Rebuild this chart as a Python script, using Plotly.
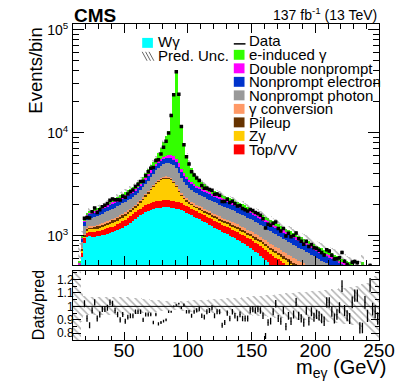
import numpy as np
import plotly.graph_objects as go

# 2 GeV bins from 10 to 250 GeV
edges = np.arange(10, 252, 2)
centers = edges[:-1] + 1

wgamma = [
    90, 170, 330, 620, 850, 960, 990, 980, 975, 985,
    995, 1005, 1020, 1040, 1060, 1080, 1100, 1125, 1160, 1195,
    1235, 1280, 1330, 1390, 1450, 1510, 1570, 1630, 1690, 1740,
    1780, 1810, 1840, 1860, 1875, 1885, 1885, 1880, 1870, 1855,
    1835, 1805, 1770, 1725, 1675, 1625, 1575, 1530, 1485, 1440,
    1395, 1355, 1315, 1275, 1235, 1195, 1160, 1125, 1090, 1060,
    1030, 1000, 970, 940, 910, 880, 850, 820, 790, 760,
    730, 700, 670, 640, 610, 580, 550, 522, 496, 472,
    450, 428, 407, 387, 368, 350, 333, 317, 302, 288,
    275, 263, 251, 240, 229, 219, 209, 200, 191, 183,
    176, 169, 162, 155, 149, 143, 137, 131, 126, 121,
    116, 111, 107, 103, 99, 95, 91, 88, 85, 82]
top_vv = [
    10, 20, 40, 60, 90, 100, 100, 105, 110, 115,
    120, 125, 130, 135, 140, 145, 150, 160, 170, 180,
    190, 200, 210, 220, 235, 250, 260, 275, 285, 295,
    300, 310, 315, 320, 320, 325, 320, 320, 315, 310,
    305, 295, 285, 275, 265, 255, 248, 240, 235, 228,
    222, 216, 210, 205, 200, 196, 192, 188, 184, 180,
    178, 176, 174, 172, 170, 168, 166, 164, 162, 160,
    158, 156, 154, 152, 150, 148, 146, 144, 142, 140,
    138, 136, 134, 132, 130, 128, 126, 124, 122, 120,
    118, 116, 114, 112, 110, 108, 106, 104, 102, 100,
    98, 96, 94, 92, 90, 88, 86, 85, 84, 83,
    82, 81, 80, 79, 78, 77, 76, 75, 74, 73]
zgamma = [
    5, 15, 25, 40, 50, 55, 60, 65, 70, 72,
    75, 80, 85, 90, 95, 100, 105, 110, 115, 120,
    125, 130, 140, 150, 170, 200, 250, 320, 420, 560,
    720, 880, 1040, 1180, 1300, 1380, 1420, 1400, 1300, 1100,
    850, 600, 400, 280, 220, 185, 165, 150, 140, 135,
    130, 125, 120, 116, 112, 108, 105, 102, 99, 96,
    93, 90, 88, 86, 84, 82, 80, 78, 76, 74,
    72, 70, 68, 66, 65, 64, 63, 62, 61, 60,
    59, 58, 57, 56, 55, 54, 53, 52, 51, 50,
    49, 48, 47, 46, 45, 44, 43, 42, 41, 40,
    39, 38, 37, 36, 35, 34, 34, 33, 33, 32,
    32, 31, 31, 30, 30, 29, 29, 28, 28, 27]
pileup = [
    3, 8, 15, 25, 40, 50, 55, 60, 65, 70,
    75, 80, 85, 90, 90, 95, 95, 100, 100, 105,
    105, 110, 110, 110, 110, 105, 100, 95, 90, 85,
    80, 80, 75, 75, 75, 75, 75, 75, 75, 75,
    70, 70, 65, 65, 60, 60, 60, 58, 56, 55,
    54, 53, 52, 51, 50, 50, 49, 48, 48, 47,
    46, 46, 45, 45, 44, 44, 43, 43, 42, 42,
    41, 41, 40, 40, 40, 39, 39, 38, 38, 38,
    37, 37, 36, 36, 36, 35, 35, 34, 34, 34,
    33, 33, 32, 32, 32, 31, 31, 30, 30, 30,
    29, 29, 28, 28, 28, 27, 27, 26, 26, 26,
    25, 25, 24, 24, 24, 23, 23, 22, 22, 22]
conversion = [
    2, 4, 8, 12, 18, 20, 22, 24, 25, 26,
    27, 28, 29, 30, 31, 32, 33, 34, 35, 36,
    37, 38, 39, 40, 42, 44, 46, 48, 50, 52,
    54, 56, 58, 60, 62, 64, 66, 68, 70, 72,
    74, 76, 78, 80, 80, 80, 80, 80, 80, 80,
    80, 80, 80, 80, 80, 79, 79, 78, 78, 77,
    77, 76, 76, 75, 75, 74, 74, 73, 73, 72,
    72, 71, 71, 70, 70, 69, 69, 68, 68, 67,
    67, 66, 66, 65, 65, 64, 64, 63, 63, 62,
    62, 61, 60, 59, 58, 57, 56, 55, 54, 53,
    52, 51, 50, 49, 48, 47, 46, 45, 44, 43,
    42, 41, 40, 39, 38, 37, 36, 35, 34, 33]
np_photon = [
    10, 30, 70, 110, 190, 220, 240, 255, 270, 285,
    300, 315, 330, 345, 360, 375, 390, 400, 410, 420,
    430, 440, 450, 465, 480, 500, 530, 570, 620, 690,
    780, 880, 980, 1080, 1160, 1230, 1290, 1340, 1380, 1400,
    1380, 1250, 1000, 900, 800, 720, 660, 620, 590, 565,
    545, 530, 515, 500, 490, 480, 470, 460, 450, 440,
    430, 420, 410, 400, 390, 380, 370, 360, 350, 340,
    330, 320, 311, 302, 293, 284, 276, 268, 260, 252,
    245, 238, 231, 224, 218, 212, 206, 200, 194, 188,
    180, 174, 168, 162, 156, 150, 145, 140, 135, 130,
    126, 122, 118, 114, 110, 106, 102, 98, 95, 92,
    88, 85, 82, 80, 78, 76, 74, 72, 70, 68]
np_electron = [
    5, 15, 40, 70, 130, 150, 160, 165, 170, 175,
    180, 185, 190, 200, 210, 220, 230, 240, 250, 255,
    260, 265, 270, 275, 285, 295, 310, 330, 350, 380,
    410, 440, 470, 500, 530, 560, 590, 620, 640, 650,
    640, 600, 520, 480, 440, 410, 390, 375, 360, 350,
    340, 332, 325, 318, 311, 304, 297, 290, 284, 278,
    272, 266, 260, 254, 248, 242, 236, 230, 224, 218,
    212, 206, 200, 195, 190, 185, 180, 175, 170, 165,
    160, 156, 152, 148, 144, 140, 136, 132, 128, 124,
    120, 117, 114, 111, 108, 105, 102, 100, 98, 96,
    94, 92, 90, 88, 86, 84, 82, 80, 78, 76,
    74, 72, 70, 68, 66, 64, 62, 60, 58, 56]
double_np = [
    2, 5, 12, 22, 40, 45, 48, 50, 52, 54,
    56, 58, 60, 62, 64, 66, 68, 70, 72, 74,
    76, 78, 80, 82, 85, 90, 100, 115, 135, 160,
    185, 210, 240, 270, 300, 330, 360, 390, 420, 440,
    430, 380, 300, 230, 180, 150, 130, 118, 110, 104,
    99, 95, 92, 89, 86, 84, 82, 80, 78, 76,
    74, 72, 70, 68, 66, 64, 62, 60, 58, 57,
    56, 55, 54, 53, 52, 51, 50, 49, 48, 47,
    46, 45, 44, 43, 42, 41, 40, 39, 38, 37,
    36, 35, 34, 33, 32, 31, 30, 30, 29, 29,
    28, 28, 27, 27, 26, 26, 25, 25, 24, 24,
    23, 23, 22, 40, 21, 21, 20, 20, 19, 19]
e_induced = [
    5, 10, 30, 30, 40, 45, 50, 55, 60, 65,
    70, 75, 80, 85, 95, 110, 125, 140, 160, 180,
    200, 220, 240, 250, 270, 300, 330, 370, 420, 480,
    500, 550, 700, 950, 1450, 2300, 3200, 4300, 9300, 17500,
    33300, 18200, 7200, 3550, 2380, 1700, 1190, 880, 690, 540,
    430, 360, 300, 260, 230, 220, 205, 195, 185, 180,
    170, 165, 160, 155, 150, 145, 140, 135, 130, 125,
    120, 115, 110, 106, 102, 98, 95, 92, 89, 86,
    84, 82, 80, 78, 76, 74, 72, 70, 68, 66,
    64, 62, 60, 58, 56, 54, 52, 50, 49, 48,
    47, 46, 45, 44, 43, 42, 41, 40, 39, 38,
    37, 36, 35, 90, 33, 32, 31, 30, 29, 28]

# data / prediction
data_over_pred = [
    None, None, None, None, 1.02, 0.91, 0.86, 0.97, 1.03, 0.91,
    0.94, 0.98, 0.98, 0.99, 1.03, 1.02, 0.97, 0.94, 0.90, 0.94,
    0.89, 0.92, 0.93, 0.93, 0.96, 0.96, 0.96, 0.90, 0.94, 0.94,
    0.94, 0.88, 0.94, 0.87, 0.88, 0.89, 0.90, 0.96, 0.96, 1.00,
    1.01, 1.02, 0.99, 1.01, 0.96, 0.96, 0.93, 0.96, 0.97, 0.98,
    0.93, 0.92, 0.96, 0.97, 0.99, 0.93, 0.96, 0.96, 0.86, 0.88,
    0.95, 0.91, 0.96, 0.93, 0.91, 0.94, 0.91, 0.91, 0.91, 0.97,
    0.98, 0.97, 0.98, 0.97, 0.93, 0.78, 0.88, 0.89, 0.96, 1.02,
    0.91, 0.89, 0.97, 0.85, 0.93, 0.89, 0.94, 1.03, 0.93, 0.91,
    0.88, 0.97, 0.89, 0.96, 0.92, 0.94, 0.93, 0.91, 0.89, 1.03,
    1.03, 0.96, 0.91, 0.94, 0.99, 1.15, 0.97, 0.93, 0.91, 1.03,
    1.08, 1.08, 0.84, 0.84, 1.03, 0.93, 1.16, 0.98, 0.96, 0.91]

# relative prediction uncertainty (half width)
pred_unc = [
    0.5, 0.5, 0.5, 0.12, 0.075, 0.072, 0.07, 0.07, 0.07, 0.07,
    0.07, 0.07, 0.07, 0.069, 0.068, 0.068, 0.067, 0.066, 0.066, 0.065,
    0.064, 0.063, 0.062, 0.061, 0.06, 0.058, 0.056, 0.054, 0.052, 0.05,
    0.048, 0.046, 0.044, 0.042, 0.04, 0.038, 0.036, 0.034, 0.033, 0.032,
    0.032, 0.033, 0.035, 0.037, 0.039, 0.041, 0.042, 0.043, 0.044, 0.045,
    0.046, 0.047, 0.048, 0.049, 0.05, 0.051, 0.052, 0.053, 0.054, 0.055,
    0.056, 0.057, 0.058, 0.059, 0.06, 0.062, 0.064, 0.066, 0.068, 0.07,
    0.072, 0.073, 0.074, 0.075, 0.076, 0.078, 0.08, 0.082, 0.084, 0.086,
    0.088, 0.09, 0.092, 0.094, 0.096, 0.098, 0.1, 0.101, 0.102, 0.103,
    0.104, 0.105, 0.106, 0.108, 0.11, 0.112, 0.114, 0.116, 0.118, 0.12,
    0.122, 0.124, 0.126, 0.128, 0.13, 0.132, 0.134, 0.136, 0.138, 0.14,
    0.145, 0.15, 0.155, 0.16, 0.165, 0.17, 0.18, 0.2, 0.22, 0.25]

# stack order, bottom to top
components = [
    ("Wγ", wgamma, "#00ffff"),
    ("Top/VV", top_vv, "#ff0000"),
    ("Zγ", zgamma, "#ffcc00"),
    ("Pileup", pileup, "#663300"),
    ("γ conversion", conversion, "#ff9966"),
    ("Nonprompt photon", np_photon, "#999999"),
    ("Nonprompt electron", np_electron, "#0033cc"),
    ("Double nonprompt", double_np, "#ff00ff"),
    ("e-induced γ", e_induced, "#33ff00"),
]

FONT = "Liberation Sans, Arial, sans-serif"
HATCH = dict(shape="\\", fgcolor="#666666", bgcolor="rgba(0,0,0,0)", size=5, solidity=0.3)

stack = np.array([c[1] for c in components], dtype=float)
pred = stack.sum(axis=0)
below = np.cumsum(stack, axis=0) - stack
unc = np.array(pred_unc)
ratio = np.array([np.nan if r is None else r for r in data_over_pred])
data = ratio * pred
data_err = np.sqrt(data)
ratio_err = ratio / np.sqrt(data)

fig = go.Figure()

for i, (name, vals, col) in enumerate(components):
    fig.add_trace(go.Bar(
        x=centers, y=vals, base=below[i] if i > 0 else None, width=2,
        marker=dict(color=col, line=dict(width=0)),
        name=name, showlegend=False, xaxis="x", yaxis="y"))

fig.add_trace(go.Bar(
    x=centers, y=2 * unc * pred, base=pred * (1 - unc), width=2,
    marker=dict(color="rgba(0,0,0,0)", line=dict(width=0), pattern=HATCH),
    showlegend=False, xaxis="x", yaxis="y"))

fig.add_trace(go.Scatter(
    x=centers, y=data, mode="markers",
    marker=dict(symbol="square", size=3.5, color="black"),
    error_y=dict(type="data", array=data_err, color="black", thickness=1, width=0),
    showlegend=False, xaxis="x", yaxis="y"))

# ratio panel
fig.add_trace(go.Bar(
    x=centers, y=2 * unc, base=1 - unc, width=2,
    marker=dict(color="rgba(0,0,0,0)", line=dict(width=0), pattern=HATCH),
    showlegend=False, xaxis="x2", yaxis="y2"))

fig.add_trace(go.Scatter(
    x=centers, y=ratio, mode="markers",
    marker=dict(size=1, color="black"),
    error_y=dict(type="data", array=ratio_err, color="black", thickness=1.3, width=0),
    showlegend=False, xaxis="x2", yaxis="y2"))

fig.add_shape(type="line", xref="x2", yref="y2", x0=10, x1=250, y0=1, y1=1,
              line=dict(color="black", width=1))

axis_common = dict(showline=True, linecolor="black", linewidth=1, mirror="allticks",
                   showgrid=False, zeroline=False, ticks="inside", tickcolor="black")

minor_log = [m * 10 ** e for e in (2, 3, 4) for m in range(2, 10)]

# the page body has an 8 px margin, so the figure is 8 px smaller than the window
fig.update_layout(
    width=399, height=379,
    margin=dict(l=65, r=20, t=14, b=47),
    plot_bgcolor="white", paper_bgcolor="white",
    barmode="overlay", bargap=0,
    showlegend=False,
    font=dict(family=FONT, size=13, color="black"),
    xaxis=dict(domain=[0, 1], anchor="y", range=[10, 250], tick0=0, dtick=50,
               ticklen=9, showticklabels=False,
               minor=dict(ticks="inside", dtick=10, ticklen=5, tickcolor="black"),
               **axis_common),
    yaxis=dict(domain=[0.236, 1], anchor="x", type="log", range=[2.71, 5.058],
               tickvals=[1e3, 1e4, 1e5],
               ticktext=["10<sup>3</sup>", "10<sup>4</sup>", "10<sup>5</sup>"],
               ticklen=11, tickfont=dict(size=14), ticklabelstandoff=1,
               minor=dict(ticks="inside", tickvals=minor_log, ticklen=6, tickcolor="black"),
               **axis_common),
    xaxis2=dict(domain=[0, 1], anchor="y2", range=[10, 250], tick0=0, dtick=50,
                ticklen=8, tickfont=dict(size=19), ticklabelstandoff=-7,
                minor=dict(ticks="inside", dtick=10, ticklen=4, tickcolor="black"),
                **axis_common),
    yaxis2=dict(domain=[0, 0.217], anchor="x2", range=[0.75, 1.26],
                tickvals=[0.8, 0.9, 1.0, 1.1, 1.2],
                ticktext=["0.8", "0.9", "1", "1.1", "1.2"],
                ticklen=8, tickfont=dict(size=12), ticklabelstandoff=-4,
                minor=dict(ticks="inside", dtick=0.05, ticklen=4, tickcolor="black"),
                **axis_common),
)


def px_x(p):
    return (p - 73) / 314


def px_y(p):
    return (340 - p) / 318


def note(text, x, y, size, xanchor="left", angle=0):
    fig.add_annotation(text=text, x=px_x(x), y=px_y(y), xref="paper", yref="paper",
                       xanchor=xanchor, yanchor="middle", showarrow=False,
                       textangle=angle, font=dict(family=FONT, size=size, color="black"))


note("<b>CMS</b>", 72, 13, 19)
note("137 fb<sup>-1</sup> (13 TeV)", 387, 12, 14, xanchor="right")
note("Events/bin", 35, 69, 18.5, xanchor="center", angle=-90)
note("Data/pred", 37, 305, 16, xanchor="center", angle=-90)
note("m<sub>eγ</sub> (GeV)", 396, 369, 20, xanchor="right")

# legend, right column
legend_names = ["e-induced γ", "Double nonprompt", "Nonprompt electron", "Nonprompt photon",
                "γ conversion", "Pileup", "Zγ", "Top/VV"]
legend_colors = {name: col for name, _, col in components}
fig.add_shape(type="line", xref="paper", yref="paper",
              x0=px_x(238), x1=px_x(250), y0=px_y(42), y1=px_y(42),
              line=dict(color="black", width=1.5))
note("Data", 252, 39, 15)
for k, name in enumerate(legend_names):
    yc = 53 + k * 13.6
    fig.add_shape(type="rect", xref="paper", yref="paper",
                  x0=px_x(238), x1=px_x(249), y0=px_y(yc + 5), y1=px_y(yc - 5),
                  fillcolor=legend_colors[name], line=dict(width=0))
    note(name, 252, yc, 15)

# legend, left column
fig.add_shape(type="rect", xref="paper", yref="paper",
              x0=px_x(144), x1=px_x(155), y0=px_y(46), y1=px_y(36),
              fillcolor=legend_colors["Wγ"], line=dict(width=0))
note("Wγ", 158, 40, 15)
for k in range(3):
    x0 = 144 + k * 3.5
    fig.add_shape(type="line", xref="paper", yref="paper",
                  x0=px_x(x0), x1=px_x(x0 + 5), y0=px_y(50), y1=px_y(59),
                  line=dict(color="#666666", width=1))
note("Pred. Unc.", 158, 54, 15)

fig.write_html("out.html")
